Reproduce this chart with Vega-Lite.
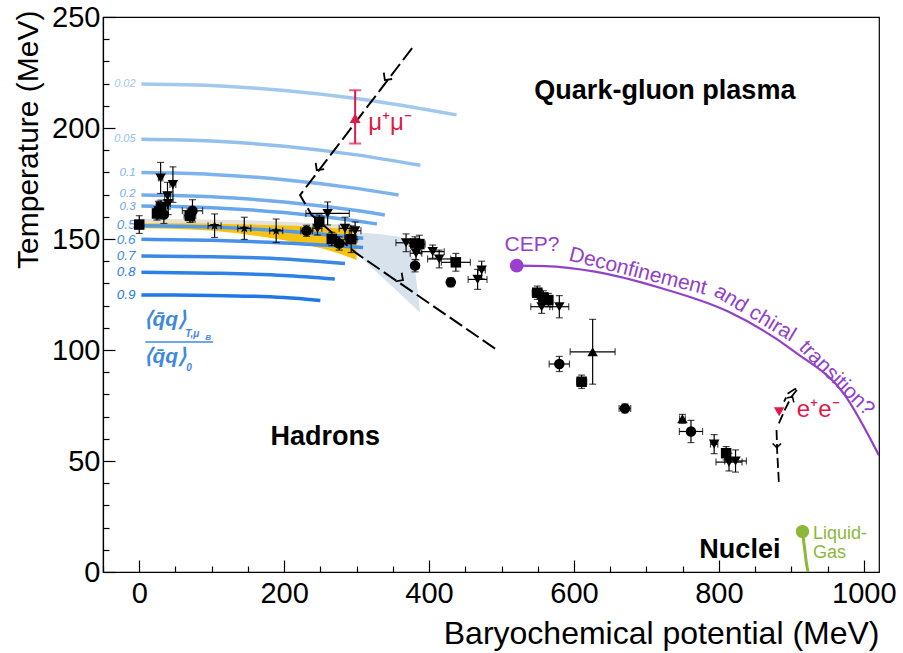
{
"$schema":"https://vega.github.io/schema/vega-lite/v6.json",
"width":776,"height":555,
"autosize":{"type":"none"},
"padding":{"left":103,"top":17,"right":24,"bottom":81},
"background":"white",
"config":{"font":"Liberation Sans","view":{"stroke":"black","strokeWidth":1.2},"axis":{"grid":false,"ticks":true,"zindex":1,"domainColor":"black","domainWidth":1.2,"tickColor":"black","tickWidth":1.2,"labelColor":"black","titleColor":"black","titleFontWeight":"normal","labelFont":"Liberation Sans","titleFont":"Liberation Sans"}},
"datasets":{
"contours":[
{"lvl":"0.02","mu":3,"T":219.8},{"lvl":"0.02","mu":100,"T":219.1},{"lvl":"0.02","mu":200,"T":216.9},{"lvl":"0.02","mu":300,"T":213.3},{"lvl":"0.02","mu":438,"T":205.9},
{"lvl":"0.05","mu":3,"T":194.9},{"lvl":"0.05","mu":100,"T":194.1},{"lvl":"0.05","mu":200,"T":191.8},{"lvl":"0.05","mu":300,"T":187.9},{"lvl":"0.05","mu":388,"T":183.2},
{"lvl":"0.1","mu":3,"T":179.9},{"lvl":"0.1","mu":100,"T":179.1},{"lvl":"0.1","mu":200,"T":176.7},{"lvl":"0.1","mu":300,"T":172.8},{"lvl":"0.1","mu":358,"T":169.8},
{"lvl":"0.2","mu":3,"T":169.8},{"lvl":"0.2","mu":100,"T":169.0},{"lvl":"0.2","mu":200,"T":166.7},{"lvl":"0.2","mu":300,"T":162.8},{"lvl":"0.2","mu":339,"T":160.8},
{"lvl":"0.3","mu":3,"T":164.9},{"lvl":"0.3","mu":100,"T":164.1},{"lvl":"0.3","mu":200,"T":161.9},{"lvl":"0.3","mu":300,"T":158.1},{"lvl":"0.3","mu":328,"T":156.8},
{"lvl":"0.5","mu":3,"T":156},{"lvl":"0.5","mu":100,"T":155.4},{"lvl":"0.5","mu":200,"T":153.6},{"lvl":"0.5","mu":309,"T":150.3},
{"lvl":"0.6","mu":3,"T":149.9},{"lvl":"0.6","mu":100,"T":149.4},{"lvl":"0.6","mu":200,"T":148.2},{"lvl":"0.6","mu":309,"T":146.2},
{"lvl":"0.7","mu":3,"T":142.3},{"lvl":"0.7","mu":100,"T":142},{"lvl":"0.7","mu":200,"T":141},{"lvl":"0.7","mu":284,"T":139},
{"lvl":"0.8","mu":3,"T":135},{"lvl":"0.8","mu":100,"T":134.6},{"lvl":"0.8","mu":200,"T":133.6},{"lvl":"0.8","mu":270,"T":132},
{"lvl":"0.9","mu":3,"T":124.8},{"lvl":"0.9","mu":100,"T":124.6},{"lvl":"0.9","mu":200,"T":123.6},{"lvl":"0.9","mu":250,"T":122.3}
],
"clabels":[
{"lvl":"0.02","mu":-5,"T":219.8},{"lvl":"0.05","mu":-5,"T":194.9},{"lvl":"0.1","mu":-5,"T":179.9},{"lvl":"0.2","mu":-5,"T":170.3},{"lvl":"0.3","mu":-5,"T":164.5},
{"lvl":"0.5","mu":-5,"T":156.2},{"lvl":"0.6","mu":-5,"T":149.6},{"lvl":"0.7","mu":-5,"T":142.3},{"lvl":"0.8","mu":-5,"T":135},{"lvl":"0.9","mu":-5,"T":124.8}
],
"pts":[
{"mu":0,"T":156.5,"xe":4,"te":4,"s":"square"},
{"mu":29.5,"T":177.5,"xe":3,"te":7,"s":"down"},
{"mu":46.5,"T":174.5,"xe":4,"te":8,"s":"down"},
{"mu":39,"T":169.5,"xe":4,"te":6,"s":"down"},
{"mu":40,"T":166,"xe":3,"te":5,"s":"down"},
{"mu":26.5,"T":163,"xe":3,"te":4,"s":"circle"},
{"mu":34,"T":161,"xe":4,"te":4,"s":"circle"},
{"mu":24.5,"T":161.5,"xe":3,"te":3,"s":"square"},
{"mu":30,"T":164.5,"xe":3,"te":3,"s":"square"},
{"mu":73.5,"T":162.7,"xe":14,"te":5,"s":"circle"},
{"mu":70,"T":160.5,"xe":8,"te":3,"s":"square"},
{"mu":104,"T":156,"xe":9,"te":5.3,"s":"star"},
{"mu":145,"T":154.8,"xe":9,"te":5,"s":"star"},
{"mu":189,"T":153.7,"xe":9,"te":5.3,"s":"star"},
{"mu":231,"T":153.7,"xe":8,"te":2.5,"s":"circle"},
{"mu":260,"T":161.5,"xe":30,"te":5.2,"s":"down"},
{"mu":248.5,"T":157.8,"xe":5,"te":3,"s":"square"},
{"mu":246,"T":154.8,"xe":6,"te":3,"s":"down"},
{"mu":265.8,"T":150,"xe":6,"te":3,"s":"square"},
{"mu":276,"T":148,"xe":6,"te":3,"s":"circle"},
{"mu":284,"T":154.8,"xe":8,"te":5,"s":"down"},
{"mu":298,"T":153.7,"xe":8,"te":4,"s":"down"},
{"mu":292.5,"T":149.9,"xe":8,"te":6,"s":"square"},
{"mu":368.3,"T":148.3,"xe":14,"te":4,"s":"down"},
{"mu":380.7,"T":148,"xe":8,"te":3,"s":"square"},
{"mu":386.6,"T":147.7,"xe":8,"te":4,"s":"square"},
{"mu":382,"T":143.6,"xe":8,"te":3,"s":"down"},
{"mu":380.7,"T":138,"xe":5,"te":2.8,"s":"circle"},
{"mu":405,"T":144.3,"xe":16,"te":3,"s":"down"},
{"mu":414,"T":141,"xe":16,"te":4,"s":"down"},
{"mu":437,"T":139.5,"xe":20,"te":4,"s":"square"},
{"mu":430,"T":130.5,"xe":5,"te":2,"s":"circle"},
{"mu":472.6,"T":136,"xe":5,"te":4,"s":"down"},
{"mu":467,"T":131.8,"xe":13,"te":4.5,"s":"down"},
{"mu":549.4,"T":125.8,"xe":7,"te":3,"s":"square"},
{"mu":557.7,"T":123.7,"xe":6,"te":3,"s":"square"},
{"mu":564.6,"T":122.5,"xe":6,"te":3,"s":"square"},
{"mu":555.4,"T":119.5,"xe":15,"te":3,"s":"down"},
{"mu":579.8,"T":119.5,"xe":13,"te":5,"s":"down"},
{"mu":625.8,"T":99.2,"xe":31,"te":14.6,"s":"up"},
{"mu":579.8,"T":93.7,"xe":14,"te":3.4,"s":"circle"},
{"mu":610.6,"T":85.7,"xe":7,"te":3,"s":"square"},
{"mu":670.3,"T":73.7,"xe":8,"te":2,"s":"circle"},
{"mu":749.7,"T":69,"xe":4,"te":2,"s":"up"},
{"mu":761.5,"T":63.3,"xe":16,"te":5,"s":"circle"},
{"mu":793.5,"T":57.6,"xe":5,"te":4.3,"s":"down"},
{"mu":810,"T":53.5,"xe":5,"te":3,"s":"square"},
{"mu":814,"T":49.5,"xe":18,"te":4,"s":"down"},
{"mu":823,"T":50,"xe":15,"te":5,"s":"down"}
]
},
"encoding":{
"x":{"field":"mu","type":"quantitative","scale":{"domain":[-50,1021],"nice":false,"zero":false},
"axis":{"title":"Baryochemical potential (MeV)","values":[-50,0,50,100,150,200,250,300,350,400,450,500,550,600,650,700,750,800,850,900,950,1000],"format":"d","labelExpr":"datum.value % 200 === 0 ? datum.label : ''","tickSize":{"condition":{"test":"datum.value % 200 === 0","value":-12},"value":-6},"labelPadding":19,"labelFontSize":29,"labelFlush":false,"labelOverlap":false,"titleFontSize":32,"titleAnchor":"end","titleAlign":"right","titleBaseline":"alphabetic","titleX":776,"titleY":71}},
"y":{"field":"T","type":"quantitative","scale":{"domain":[0,250],"nice":false,"zero":false},
"axis":{"title":"Temperature (MeV)","values":[0,10,20,30,40,50,60,70,80,90,100,110,120,130,140,150,160,170,180,190,200,210,220,230,240,250],"format":"d","labelExpr":"datum.value % 50 === 0 ? datum.label : ''","tickSize":{"condition":{"test":"datum.value % 50 === 0","value":-12},"value":-6},"labelPadding":15,"labelFontSize":29,"labelFlush":false,"labelOverlap":false,"titleFontSize":30,"titleAnchor":"end","titleAlign":"right","titleBaseline":"middle","titleX":-75,"titleY":-7}}
},
"layer":[
{"data":{"values":[{"mu":0,"T":159.2,"T2":157.1},{"mu":150,"T":158.5,"T2":156.3},{"mu":300,"T":156.3,"T2":154}]},
 "mark":{"type":"area","color":"#cfcfc0","opacity":0.6},"encoding":{"y2":{"field":"T2"}}},
{"data":{"values":[{"mu":0,"T":157.1,"T2":154.8},{"mu":84,"T":157,"T2":154},{"mu":153,"T":156.5,"T2":151.8},{"mu":222,"T":155.9,"T2":148},{"mu":268,"T":155,"T2":144.3},{"mu":300,"T":154,"T2":140.5}]},
 "mark":{"type":"area","color":"#f6c310","interpolate":"monotone"},"encoding":{"y2":{"field":"T2"}}},
{"data":{"values":[{"mu":300,"T":153,"T2":143.5},{"mu":330,"T":152.3,"T2":134.4},{"mu":360,"T":151,"T2":125.3},{"mu":372,"T":146,"T2":121.6},{"mu":380,"T":138,"T2":119.2},{"mu":387.6,"T":117.5,"T2":116.9}]},
 "mark":{"type":"area","color":"#c3d2e2","opacity":0.65},"encoding":{"y2":{"field":"T2"}}},
{"data":{"name":"contours"},"mark":{"type":"line","strokeWidth":3.5,"interpolate":"monotone"},
 "encoding":{"color":{"field":"lvl","type":"nominal","legend":null,"scale":{"domain":["0.02","0.05","0.1","0.2","0.3","0.5","0.6","0.7","0.8","0.9"],"range":["#a3c8ee","#92bfec","#7db3ec","#73acec","#68a6ec","#5399ea","#4690ea","#3988e8","#2c80e8","#2078e6"]}},"detail":{"field":"lvl"}}},
{"data":{"name":"clabels"},"transform":[{"filter":{"field":"lvl","oneOf":["0.02","0.05"]}}],"mark":{"type":"text","align":"right","baseline":"middle","fontStyle":"italic","fontSize":11},
 "encoding":{"text":{"field":"lvl"},"color":{"field":"lvl","type":"nominal","legend":null}}},
{"data":{"name":"clabels"},"transform":[{"filter":{"field":"lvl","oneOf":["0.1","0.2","0.3"]}}],"mark":{"type":"text","align":"right","baseline":"middle","fontStyle":"italic","fontSize":11.5},
 "encoding":{"text":{"field":"lvl"},"color":{"field":"lvl","type":"nominal","legend":null}}},
{"data":{"name":"clabels"},"transform":[{"filter":{"field":"lvl","oneOf":["0.5","0.6","0.7","0.8","0.9"]}}],"mark":{"type":"text","align":"right","baseline":"middle","fontStyle":"italic","fontSize":13.5},
 "encoding":{"text":{"field":"lvl"},"color":{"field":"lvl","type":"nominal","legend":null}}},
{"data":{"values":[{"mu":376.6,"T":236,"k":1},{"mu":222,"T":169.8,"k":2},{"mu":238,"T":160.8,"k":3},{"mu":300,"T":143.5,"k":4},{"mu":494,"T":100,"k":5}]},
 "mark":{"type":"line","color":"black","strokeWidth":2,"strokeDash":[15,5]},"encoding":{"order":{"field":"k"}}},
{"data":{"values":[{"mu":339,"T":221.6},{"mu":245,"T":181}]},"mark":{"type":"point","shape":"M-1,-1L0,0L-1,1","filled":false,"color":"black","strokeWidth":1.8,"size":110,"angle":127,"opacity":1}},
{"data":{"values":[{"mu":364,"T":131.5}]},"mark":{"type":"point","shape":"M-1,-1L0,0L-1,1","filled":false,"color":"black","strokeWidth":1.8,"size":110,"angle":35,"opacity":1}},
{"data":{"values":[{"mu":882.8,"T":67,"k":1,"g":"a"},{"mu":891,"T":73,"k":2,"g":"a"},{"mu":900.2,"T":79,"k":3,"g":"a"},{"mu":909.4,"T":82.7,"k":4,"g":"a"},{"mu":904.8,"T":82.4,"k":5,"g":"a"},{"mu":895.6,"T":80.5,"k":6,"g":"a"},{"mu":890,"T":76.7,"k":7,"g":"a"},
 {"mu":879.6,"T":64,"k":1,"g":"b"},{"mu":880.5,"T":54,"k":2,"g":"b"},{"mu":882.8,"T":40.5,"k":3,"g":"b"}]},
 "mark":{"type":"line","color":"black","strokeWidth":1.8,"strokeDash":[10,4]},"encoding":{"order":{"field":"k"},"detail":{"field":"g"}}},
{"data":{"values":[{"mu":901.6,"T":79}]},"mark":{"type":"point","shape":"M-1,-1L0,0L-1,1","filled":false,"color":"black","strokeWidth":1.6,"size":70,"angle":-58,"opacity":1}},
{"data":{"values":[{"mu":880,"T":56}]},"mark":{"type":"point","shape":"M-1,-1L0,0L-1,1","filled":false,"color":"black","strokeWidth":1.6,"size":70,"angle":90,"opacity":1}},
{"data":{"values":[{"mu":521,"T":138,"k":1},{"mu":560,"T":137.8,"k":2},{"mu":629,"T":135.3,"k":3},{"mu":721,"T":127.8,"k":4},{"mu":812.8,"T":117.3,"k":5},{"mu":904.8,"T":99.2,"k":6},{"mu":973.8,"T":79.7,"k":7},{"mu":1021,"T":52.5,"k":8}]},
 "mark":{"type":"line","color":"#9141c9","strokeWidth":2.2,"interpolate":"monotone","clip":true},"encoding":{"order":{"field":"k"}}},
{"data":{"values":[{"mu":521,"T":138}]},"mark":{"type":"point","shape":"circle","filled":true,"color":"#9b3fd3","size":190,"opacity":1}},
{"data":{"name":"pts"},"mark":{"type":"errorbar","color":"black","thickness":1.2,"ticks":{"size":7,"thickness":1.2}},"encoding":{"xError":{"field":"xe"}}},
{"data":{"name":"pts"},"mark":{"type":"errorbar","color":"black","thickness":1.2,"ticks":{"size":7,"thickness":1.2}},"encoding":{"yError":{"field":"te"}}},
{"data":{"name":"pts"},"mark":{"type":"point","filled":true,"color":"black","size":110,"opacity":1},
 "encoding":{"shape":{"field":"s","type":"nominal","legend":null,"scale":{"domain":["circle","square","down","up","star"],"range":["circle","square","triangle-down","triangle-up","M0,-1L0.2245,-0.309L0.951,-0.309L0.363,0.118L0.588,0.809L0,0.382L-0.588,0.809L-0.363,0.118L-0.951,-0.309L-0.2245,-0.309Z"]}}}},
{"data":{"values":[{"mu":298,"T":205,"te":12}]},"mark":{"type":"errorbar","color":"#e0194b","thickness":2,"ticks":{"size":12,"thickness":2}},"encoding":{"yError":{"field":"te"}}},
{"data":{"values":[{"mu":298,"T":204.4}]},"mark":{"type":"point","shape":"triangle-up","filled":true,"color":"#e0194b","size":120,"opacity":1}},
{"data":{"values":[{"mu":316,"T":202.3,"txt":"μ⁺μ⁻"}]},"mark":{"type":"text","align":"left","baseline":"middle","fontSize":24,"color":"#e0194b"},"encoding":{"text":{"field":"txt"}}},
{"data":{"values":[{"mu":883.2,"T":72.2}]},"mark":{"type":"point","shape":"triangle-down","filled":true,"color":"#e0194b","size":110,"opacity":1}},
{"data":{"values":[{"mu":907.6,"T":73,"txt":"e⁺e⁻"}]},"mark":{"type":"text","align":"left","baseline":"middle","fontSize":24,"color":"#e0194b"},"encoding":{"text":{"field":"txt"}}},
{"data":{"values":[{"mu":725.5,"T":216.7,"txt":"Quark-gluon plasma"},{"mu":256.6,"T":60.8,"txt":"Hadrons"},{"mu":829,"T":9.9,"txt":"Nuclei"}]},
 "mark":{"type":"text","align":"center","baseline":"middle","fontSize":27,"fontWeight":"bold","color":"black"},"encoding":{"text":{"field":"txt"}}},
{"data":{"values":[{"mu":542,"T":147.3,"txt":"CEP?"}]},"mark":{"type":"text","align":"center","baseline":"middle","fontSize":21,"color":"#9141c9"},"encoding":{"text":{"field":"txt"}}},
{"data":{"values":[{"mu":688.3,"T":135.3,"txt":"Deconfinement"}]},"mark":{"type":"text","align":"center","baseline":"middle","fontSize":21,"color":"#9141c9","angle":14},"encoding":{"text":{"field":"txt"}}},
{"data":{"values":[{"mu":849.7,"T":116.5,"txt":"and chiral"}]},"mark":{"type":"text","align":"center","baseline":"middle","fontSize":21,"color":"#9141c9","angle":31},"encoding":{"text":{"field":"txt"}}},
{"data":{"values":[{"mu":962.3,"T":87.2,"txt":"transition?"}]},"mark":{"type":"text","align":"center","baseline":"middle","fontSize":21,"color":"#9141c9","angle":45},"encoding":{"text":{"field":"txt"}}},
{"data":{"values":[{"mu":915.4,"T":18.2,"k":1},{"mu":918.6,"T":9.9,"k":2},{"mu":920.8,"T":4,"k":3},{"mu":923,"T":0,"k":4}]},
 "mark":{"type":"line","color":"#8ab83a","strokeWidth":3,"interpolate":"monotone"},"encoding":{"order":{"field":"k"}}},
{"data":{"values":[{"mu":915.4,"T":18.2}]},"mark":{"type":"point","shape":"circle","filled":true,"color":"#8ab83a","size":180,"opacity":1}},
{"data":{"values":[{"mu":930,"T":17.3,"txt":"Liquid-"},{"mu":930,"T":8.6,"txt":"Gas"}]},"mark":{"type":"text","align":"left","baseline":"middle","fontSize":18,"color":"#8ab83a"},"encoding":{"text":{"field":"txt"}}},
{"data":{"values":[{"mu":35.9,"T":113.5,"txt":"⟨q̄q⟩"},{"mu":35.9,"T":96.8,"txt":"⟨q̄q⟩"}]},"mark":{"type":"text","align":"center","baseline":"middle","fontSize":21,"fontWeight":"bold","fontStyle":"italic","color":"#3f88e0"},"encoding":{"text":{"field":"txt"}}},
{"data":{"values":[{"mu":63.4,"T":107.2,"txt":"T,μ"},{"mu":64.8,"T":91.9,"txt":"0"}]},"mark":{"type":"text","align":"left","baseline":"middle","fontSize":10,"fontWeight":"bold","fontStyle":"italic","color":"#3f88e0"},"encoding":{"text":{"field":"txt"}}},
{"data":{"values":[{"mu":91,"T":105.4,"txt":"B"}]},"mark":{"type":"text","align":"left","baseline":"middle","fontSize":8,"fontWeight":"bold","fontStyle":"italic","color":"#3f88e0"},"encoding":{"text":{"field":"txt"}}},
{"data":{"values":[{"mu":8.3,"mu2":102,"T":103.6}]},"mark":{"type":"rule","color":"#3f88e0","strokeWidth":1.5},"encoding":{"x2":{"field":"mu2"}}}
]
}
